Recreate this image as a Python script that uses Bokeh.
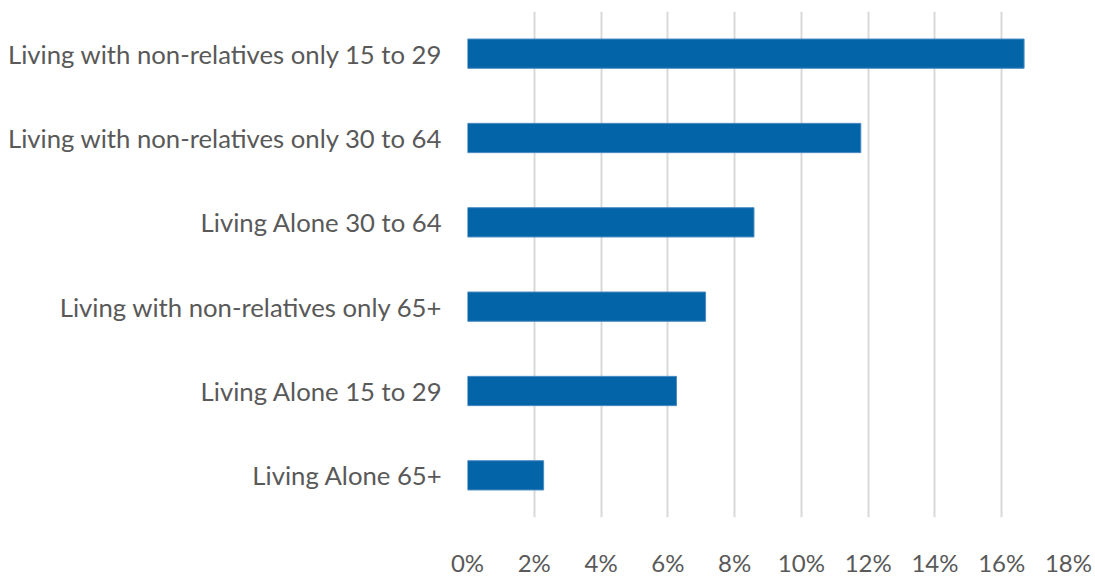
from bokeh.plotting import figure
from bokeh.models import Range1d, FixedTicker, PrintfTickFormatter, ColumnDataSource
from bokeh.embed import file_html
from bokeh.resources import INLINE

categories = [
    "Living with non-relatives only 15 to 29",
    "Living with non-relatives only 30 to 64",
    "Living Alone 30 to 64",
    "Living with non-relatives only 65+",
    "Living Alone 15 to 29",
    "Living Alone 65+",
]
values = [16.67, 11.78, 8.58, 7.13, 6.26, 2.28]
x_ticks = [0, 2, 4, 6, 8, 10, 12, 14, 16, 18]

src = ColumnDataSource(data=dict(cat=categories, val=values))

p = figure(
    y_range=list(reversed(categories)),
    x_range=Range1d(0, 18),
    width=1095, height=579,
    output_backend="svg", toolbar_location=None,
    min_border_left=467, min_border_right=27,
    min_border_top=11, min_border_bottom=49,
)
p.hbar(y="cat", right="val", left=0, height=0.347, source=src,
       fill_color="#0464a8", line_color="#4a8cc4", line_width=1)

p.y_range.range_padding = 0
p.outline_line_color = None
p.background_fill_color = "white"
p.border_fill_color = "white"

p.xgrid.ticker = FixedTicker(ticks=x_ticks)
p.xgrid.grid_line_color = "#d9d9d9"
p.xgrid.grid_line_width = 2
p.ygrid.grid_line_color = None

p.xaxis.ticker = FixedTicker(ticks=x_ticks)
p.xaxis.formatter = PrintfTickFormatter(format="%d%%")
for ax in (p.xaxis, p.yaxis):
    ax.axis_line_color = None
    ax.major_tick_line_color = None
    ax.minor_tick_line_color = None
    ax.major_label_text_font = "Lato"
    ax.major_label_text_color = "#595959"
p.yaxis.major_label_text_font_size = "25.7px"
p.xaxis.major_label_text_font_size = "24px"
p.xaxis.major_label_standoff = 24
p.yaxis.major_label_standoff = 19

open("out.html", "w").write(file_html(p, INLINE))
